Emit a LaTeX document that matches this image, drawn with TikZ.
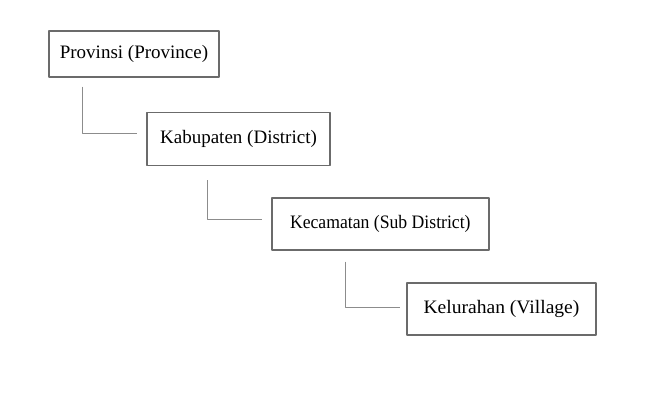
\documentclass[tikz,border=0pt]{standalone}
\usepackage{fontspec}
\setmainfont{Liberation Serif}
\begin{document}
\begin{tikzpicture}[x=1pt,y=-1pt,line join=round,font=\fontsize{19}{22}\selectfont]
		\definecolor{boxgray}{rgb}{0.42, 0.42, 0.42}
		\definecolor{linkgray}{rgb}{0.55, 0.55, 0.55}
		\tikzset{level/.style={draw=boxgray,line width=1.4pt,inner sep=0pt,minimum height=#1},
			link/.style={draw=linkgray,line width=0.9pt}}
		\useasboundingbox (0,0) rectangle (653,417);
		
		\node[level=46pt,minimum width=170pt] (prov) at (134,54) {Provinsi (Province)};
		\node[level=53pt,minimum width=183pt] (kab) at (238.5,139.2) {Kabupaten (District)};
		\node[level=52pt,minimum width=217pt] (kec) at (380.3,224) {\scalebox{0.93}[1]{Kecamatan (Sub District)}};
		\node[level=52pt,minimum width=189pt] (kel) at (501.5,309) {\scalebox{1.03}[1]{Kelurahan (Village)}};
		
		\coordinate (p1) at (82.3,86.7);   \coordinate (k1) at (137,133.3);
		\coordinate (p2) at (207.3,180);   \coordinate (k2) at (261.7,219.3);
		\coordinate (p3) at (345.3,261.7); \coordinate (k3) at (400,307.7);
		\draw[link] (p1) |- (k1);
		\draw[link] (p2) |- (k2);
		\draw[link] (p3) |- (k3);
	\end{tikzpicture}
\end{document}
